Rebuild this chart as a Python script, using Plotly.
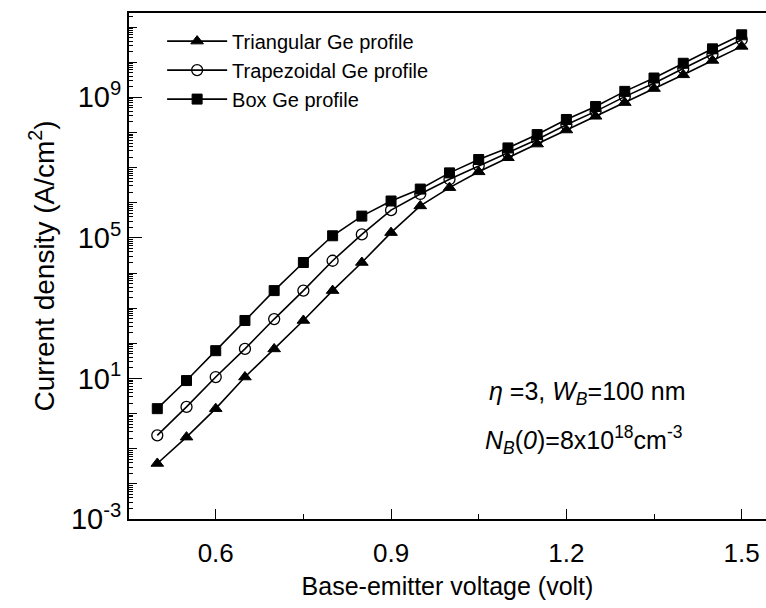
import plotly.graph_objects as go

# Base-emitter voltage (V)
vbe = [0.50, 0.55, 0.60, 0.65, 0.70, 0.75, 0.80, 0.85, 0.90, 0.95, 1.00,
       1.05, 1.10, 1.15, 1.20, 1.25, 1.30, 1.35, 1.40, 1.45, 1.50]

# log10 of current density (A/cm^2)
tri_log10 = [-1.42, -0.67, 0.14, 1.04, 1.84, 2.65, 3.50, 4.30, 5.15, 5.91, 6.43,
             6.88, 7.28, 7.67, 8.07, 8.46, 8.85, 9.25, 9.64, 10.05, 10.45]
trap_log10 = [-0.62, 0.19, 1.04, 1.84, 2.69, 3.50, 4.35, 5.10, 5.79, 6.25, 6.67,
              7.05, 7.42, 7.80, 8.22, 8.60, 9.02, 9.40, 9.82, 10.22, 10.64]
box_log10 = [0.14, 0.94, 1.79, 2.65, 3.50, 4.30, 5.06, 5.62, 6.05, 6.39, 6.85,
             7.23, 7.56, 7.94, 8.37, 8.74, 9.17, 9.55, 9.97, 10.38, 10.78]

series_names = ["Triangular Ge profile", "Trapezoidal Ge profile", "Box Ge profile"]

x_ticks = [0.6, 0.9, 1.2, 1.5]
x_tick_labels = ["0.6", "0.9", "1.2", "1.5"]
x_minor = [0.75, 1.05, 1.35]
y_label_exps = [-3, 1, 5, 9]
y_decades = list(range(-3, 12))

FONT = "Arial, Liberation Sans, sans-serif"

fig = go.Figure()

styles = [
    dict(symbol="triangle-up", size=11, color="black", line=dict(color="black", width=1)),
    dict(symbol="circle-open", size=11, color="black", line=dict(color="black", width=1.3)),
    dict(symbol="square", size=10, color="black", line=dict(color="black", width=1)),
]
for name, ylog, mk in zip(series_names, [tri_log10, trap_log10, box_log10], styles):
    fig.add_trace(go.Scatter(
        x=vbe, y=[10 ** v for v in ylog], mode="lines+markers", name=name,
        line=dict(color="black", width=1.6), marker=mk,
    ))

# invisible trace to carry the overlay axis for longer labelled y ticks
fig.add_trace(go.Scatter(x=[vbe[0]], y=[10 ** tri_log10[0]], yaxis="y2",
                         mode="markers", marker=dict(opacity=0), showlegend=False,
                         hoverinfo="skip"))

y_minor_vals = [m * 10 ** d for d in range(-3, 12) for m in range(2, 10)]

yrange = [-3, 11.4]
fig.update_layout(
    width=766, height=608,
    margin=dict(l=129, r=0, t=13, b=89),
    paper_bgcolor="white", plot_bgcolor="white",
    font=dict(family=FONT, color="black", size=20),
    showlegend=True,
    legend=dict(x=0.052, y=0.983, xanchor="left", yanchor="top",
                bgcolor="rgba(0,0,0,0)", font=dict(size=20), itemwidth=60,
                tracegroupgap=0),
    xaxis=dict(
        range=[0.4516, 1.5416], showline=True, linecolor="black", linewidth=2,
        mirror=True, ticks="inside", ticklen=10, tickwidth=1.2, tickcolor="black",
        tickvals=x_ticks, ticktext=x_tick_labels, showgrid=False, zeroline=False,
        tickfont=dict(size=26), ticklabelstandoff=10,
        minor=dict(tickvals=x_minor, ticks="inside", ticklen=5, tickwidth=1.2,
                   tickcolor="black", showgrid=False),
        title=dict(text="Base-emitter voltage (volt)", font=dict(size=25), standoff=10),
    ),
    yaxis=dict(
        type="log", range=yrange, showline=True, linecolor="black", linewidth=2,
        ticks="inside", ticklen=8, tickwidth=1.2, tickcolor="black",
        tickvals=[10 ** d for d in y_decades],
        ticktext=[("10<sup>%d</sup>" % d) if d in y_label_exps else "" for d in y_decades],
        showgrid=False, zeroline=False, tickfont=dict(size=29),
        minor=dict(tickvals=y_minor_vals, ticks="inside", ticklen=4, tickwidth=1,
                   tickcolor="black", showgrid=False),
        title=dict(text="Current density (A/cm<sup>2</sup>)", font=dict(size=28), standoff=8),
    ),
    yaxis2=dict(
        type="log", range=yrange, overlaying="y", side="left", showline=False,
        ticks="inside", ticklen=13, tickwidth=1.2, tickcolor="black",
        tickvals=[10 ** d for d in y_label_exps], showticklabels=False,
        showgrid=False, zeroline=False,
    ),
)

fig.add_annotation(xref="paper", yref="paper", x=0.562, y=0.249, xanchor="left", yanchor="middle",
                   text="<i>η</i> =3, <i>W<sub>B</sub></i>=100 nm", showarrow=False,
                   font=dict(size=25))
fig.add_annotation(xref="paper", yref="paper", x=0.555, y=0.156, xanchor="left", yanchor="middle",
                   text="<i>N<sub>B</sub></i>(<i>0</i>)=8x10<sup>18</sup>cm<sup>-3</sup>",
                   showarrow=False, font=dict(size=25))

fig.write_html("out.html")
